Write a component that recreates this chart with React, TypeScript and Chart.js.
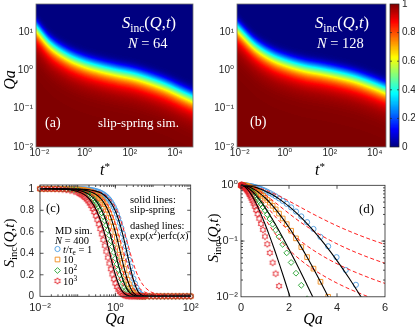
import React, { useEffect, useRef } from 'react';
import { Chart, registerables } from 'chart.js';

Chart.register(...registerables);

const PAGE_W = 415;
const PAGE_H = 328;
const SERIF = '"Liberation Serif", "DejaVu Serif", serif';
const SANS = '"Liberation Sans", "DejaVu Sans", Arial, sans-serif';
const INK = '#262626';

// ===== maps (a) N = 64 and (b) N = 128: the S_inc = 1/2 contour =====
const MAP_A_TSTAR = [0.0076, 0.0295, 0.162, 0.871, 4.79, 26.3, 145, 776, 4270, 23400, 60300];
const MAP_A_QA_HALF = [11.7, 4.57, 2.29, 1.48, 1.1, 0.871, 0.708, 0.525, 0.363, 0.229, 0.178];
const MAP_B_TSTAR = [0.0083, 0.0468, 0.257, 1.41, 7.76, 42.7, 234, 1290, 7080, 30900];
const MAP_B_QA_HALF = [11.7, 4.17, 2.19, 1.48, 1.12, 0.933, 0.759, 0.589, 0.417, 0.295];
const MAP_A_T_RANGE = [0.00708, 63100];
const MAP_B_T_RANGE = [0.00759, 31600];
const MAP_QA_RANGE = [0.01, 53.7];
const MAP_X_TICKS = [0.01, 1, 100, 10000];
const MAP_X_LABELS = ['10⁻²', '10⁰', '10²', '10⁴'];
const MAP_Y_TICKS = [0.01, 0.1, 1, 10];
const MAP_Y_LABELS = ['10⁻²', '10⁻¹', '10⁰', '10¹'];
const COLORBAR_TICKS = [0, 0.2, 0.4, 0.6, 0.8, 1];
const COLORBAR_LABELS = ['0', '0.2', '0.4', '0.6', '0.8', '1'];

// ===== panels (c) and (d) =====
const C_X_TICKS = [0.01, 1, 100];
const C_X_LABELS = ['10⁻²', '10⁰', '10²'];
const C_Y_TICKS = [0, 0.2, 0.4, 0.6, 0.8, 1];
const C_Y_LABELS = ['0', '0.2', '0.4', '0.6', '0.8', '1'];
const D_X_TICKS = [0, 2, 4, 6];
const D_X_LABELS = ['0', '2', '4', '6'];
const D_Y_TICKS = [0.01, 0.1, 1];
const D_Y_LABELS = ['10⁻²', '10⁻¹', '10⁰'];
const SERIES_T = ['1', '10', '10²', '10³'];

// Qa values of the model curves
const Q_LINE = [0.01, 0.05, 0.1, 0.15, 0.2, 0.3, 0.4, 0.5, 0.6, 0.7, 0.8, 1.0, 1.2, 1.4, 1.6, 1.8, 2.0, 2.25, 2.5, 2.75, 3.0, 3.5, 4.0, 4.5, 5.0, 5.5, 6.0, 8, 10, 20, 50, 100];
// solid black lines: slip-spring
const SLIP_T1 = [1.0, 0.9994, 0.9975, 0.9945, 0.9902, 0.9783, 0.962, 0.9417, 0.9177, 0.8903, 0.8602, 0.7924, 0.7185, 0.6413, 0.564, 0.4889, 0.4178, 0.337, 0.2663, 0.2064, 0.1572, 0.0865, 0.0446, 0.0217, 0.00998, 0.00437, 0.00182, 0.000037, 0, 0, 0, 0];
const SLIP_T10 = [1.0, 0.9985, 0.9939, 0.9865, 0.9763, 0.9485, 0.912, 0.8684, 0.8194, 0.7665, 0.7109, 0.5981, 0.4895, 0.3906, 0.3048, 0.2331, 0.1749, 0.1194, 0.0795, 0.0519, 0.0332, 0.01293, 0.00475, 0.001666, 0.000561, 0.000182, 0.000058, 0, 0, 0, 0, 0];
const SLIP_T100 = [1.0, 0.9963, 0.9858, 0.9693, 0.9476, 0.8918, 0.8244, 0.7508, 0.6748, 0.5996, 0.5277, 0.3984, 0.2928, 0.2107, 0.149, 0.1038, 0.0715, 0.0442, 0.027, 0.0163, 0.00979, 0.00344, 0.001185, 0.000401, 0.000134, 0.000045, 0.000015, 0, 0, 0, 0, 0];
const SLIP_T1000 = [0.9997, 0.9933, 0.9744, 0.9452, 0.9078, 0.815, 0.7094, 0.6021, 0.5001, 0.4077, 0.3272, 0.2025, 0.1202, 0.069, 0.0386, 0.0211, 0.01134, 0.00512, 0.002267, 0.00099, 0.000426, 0.000077, 0.0000135, 0, 0, 0, 0, 0, 0, 0, 0, 0];
// dashed red lines: exp(x^2)erfc(x)
const ERFC_T1 = [1.0, 0.9995, 0.998, 0.9955, 0.992, 0.9822, 0.9687, 0.9517, 0.9316, 0.9087, 0.8834, 0.827, 0.766, 0.7025, 0.6394, 0.5785, 0.5215, 0.4562, 0.3993, 0.349, 0.3058, 0.2376, 0.1875, 0.1511, 0.1238, 0.1031, 0.087, 0.0493, 0.0317, 0.00792, 0.00127, 0.00032];
const ERFC_T10 = [1.0, 0.9989, 0.9956, 0.9901, 0.9826, 0.9615, 0.9331, 0.8986, 0.8591, 0.8157, 0.7706, 0.6762, 0.5849, 0.5012, 0.4274, 0.3648, 0.3117, 0.2577, 0.2147, 0.1814, 0.1545, 0.1154, 0.0891, 0.0707, 0.0574, 0.0475, 0.04, 0.0225, 0.0144, 0.0036, 0.00058, 0.00014];
const ERFC_T100 = [0.9999, 0.9975, 0.9899, 0.9776, 0.9606, 0.9148, 0.8562, 0.79, 0.7189, 0.6476, 0.5788, 0.4565, 0.3589, 0.2832, 0.2273, 0.1837, 0.1512, 0.121, 0.0988, 0.082, 0.0691, 0.051, 0.0391, 0.0309, 0.0251, 0.0207, 0.0174, 0.0098, 0.0063, 0.0016, 0.00025, 0.000063];
const ERFC_T1000 = [0.9998, 0.9944, 0.9778, 0.9512, 0.9158, 0.8259, 0.7215, 0.6157, 0.5183, 0.4332, 0.3621, 0.2554, 0.1858, 0.1396, 0.1082, 0.0861, 0.07, 0.0555, 0.045, 0.0372, 0.0313, 0.023, 0.0176, 0.0139, 0.0113, 0.0093, 0.0078, 0.0044, 0.0028, 0.0007, 0.00011, 0.000028];

// Qa values of the MD points
const Q_MD = [
  0.01, 0.0126, 0.0158, 0.02, 0.0251, 0.0316, 0.0398, 0.0501, 0.0631, 0.0794,
  0.1, 0.11, 0.12, 0.132, 0.145, 0.158, 0.174, 0.191, 0.209, 0.229,
  0.251, 0.275, 0.302, 0.331, 0.363, 0.398, 0.437, 0.479, 0.525, 0.575,
  0.631, 0.692, 0.759, 0.832, 0.912, 1.0, 1.096, 1.202, 1.318, 1.445,
  1.585, 1.738, 1.905, 2.089, 2.291, 2.512, 2.754, 3.02, 3.311, 3.631,
  3.981, 4.365, 4.786, 5.248, 5.754, 6.31, 7.94, 10, 12.6, 15.8,
  20, 25.1, 31.6, 39.8, 50.1, 63.1, 79.4, 100,
];
const MD_T1 = [
  1.0, 1.0, 0.9999, 0.9999, 0.9998, 0.9998, 0.9996, 0.9994, 0.999, 0.9985,
  0.9976, 0.9971, 0.9966, 0.9959, 0.995, 0.9941, 0.9929, 0.9914, 0.9897, 0.9877,
  0.9853, 0.9824, 0.9788, 0.9747, 0.9697, 0.9638, 0.9566, 0.9483, 0.9383, 0.9267,
  0.9128, 0.8965, 0.8772, 0.855, 0.8292, 0.7995, 0.7654, 0.7265, 0.6832, 0.635,
  0.5816, 0.5245, 0.4645, 0.4018, 0.3385, 0.2765, 0.2181, 0.1647, 0.1186, 0.0806,
  0.0513, 0.0303, 0.0164, 0.00802, 0.0035, 0.00134, 0, 0, 0, 0,
  0, 0, 0, 0, 0, 0, 0, 0,
];
const MD_T10 = [
  0.9999, 0.9999, 0.9998, 0.9997, 0.9996, 0.9994, 0.999, 0.9984, 0.9975, 0.9961,
  0.9939, 0.9926, 0.9913, 0.9895, 0.9873, 0.985, 0.9819, 0.9783, 0.9742, 0.9692,
  0.9633, 0.9563, 0.9479, 0.9381, 0.9265, 0.9128, 0.8967, 0.878, 0.8566, 0.832,
  0.8033, 0.7707, 0.7339, 0.693, 0.6478, 0.5981, 0.5449, 0.4885, 0.4297, 0.3701,
  0.3108, 0.2539, 0.201, 0.1531, 0.1118, 0.0779, 0.0515, 0.032, 0.0186, 0.01,
  0.00494, 0.00222, 0, 0, 0, 0, 0, 0, 0, 0,
  0, 0, 0, 0, 0, 0, 0, 0,
];
const MD_T100 = [
  0.9998, 0.9997, 0.9996, 0.9993, 0.9989, 0.9983, 0.9974, 0.9959, 0.9935, 0.9898,
  0.9841, 0.9809, 0.9774, 0.9729, 0.9676, 0.962, 0.9545, 0.946, 0.9363, 0.9248,
  0.9115, 0.896, 0.8776, 0.8569, 0.833, 0.8059, 0.7749, 0.7408, 0.703, 0.6616,
  0.616, 0.5673, 0.5157, 0.4623, 0.4078, 0.3531, 0.2995, 0.248, 0.2002, 0.157,
  0.119, 0.0871, 0.0614, 0.0413, 0.0265, 0.0161, 0.00923, 0.00496, 0.00249, 0.00115,
  0, 0, 0, 0, 0, 0, 0, 0, 0, 0,
  0, 0, 0, 0, 0, 0, 0, 0,
];
const MD_T1000 = [
  0.9996, 0.9994, 0.999, 0.9984, 0.9975, 0.9961, 0.9939, 0.9904, 0.985, 0.9766,
  0.9638, 0.9567, 0.9491, 0.9393, 0.928, 0.9159, 0.9, 0.8822, 0.8624, 0.8395,
  0.8131, 0.7838, 0.7496, 0.7122, 0.6708, 0.6256, 0.5763, 0.5249, 0.4712, 0.4165,
  0.3602, 0.3053, 0.2526, 0.2037, 0.1594, 0.1206, 0.0879, 0.0614, 0.041, 0.026,
  0.01557, 0.00877, 0.00463, 0.00226, 0.00102, 0, 0, 0, 0, 0,
  0, 0, 0, 0, 0, 0, 0, 0, 0, 0,
  0, 0, 0, 0, 0, 0, 0, 0,
];

const SLIP_VALUES = [SLIP_T1, SLIP_T10, SLIP_T100, SLIP_T1000];
const ERFC_VALUES = [ERFC_T1, ERFC_T10, ERFC_T100, ERFC_T1000];
const MD_VALUES = [MD_T1, MD_T10, MD_T100, MD_T1000];

// styles (kept apart from the data)
const MD_STYLE = [
  { color: '#4b9be0', marker: 'circle', r: 2.6 },
  { color: '#f28c1c', marker: 'rect', r: 3.3 },
  { color: '#22a02c', marker: 'rectRot', r: 2.9 },
  { color: '#e3262c', marker: 'hexagram', r: 3.2 },
];

// ---------- helpers ----------
type Seg = { t: string; f: string; dy?: number };
const rom = (s: number) => `${s}px ${SERIF}`;
const ita = (s: number) => `italic ${s}px ${SERIF}`;

function rich(
  ctx: CanvasRenderingContext2D,
  segs: Seg[],
  x: number,
  y: number,
  o: { align?: 'left' | 'center' | 'right'; color?: string; rotate?: number; baseline?: CanvasTextBaseline } = {},
) {
  ctx.save();
  ctx.fillStyle = o.color || '#000';
  ctx.textBaseline = o.baseline || 'alphabetic';
  ctx.textAlign = 'left';
  let w = 0;
  for (const s of segs) {
    ctx.font = s.f;
    w += ctx.measureText(s.t).width;
  }
  ctx.translate(x, y);
  if (o.rotate) ctx.rotate(o.rotate);
  let cx = o.align === 'center' ? -w / 2 : o.align === 'right' ? -w : 0;
  for (const s of segs) {
    ctx.font = s.f;
    ctx.fillText(s.t, cx, s.dy || 0);
    cx += ctx.measureText(s.t).width;
  }
  ctx.restore();
}

function sinc(size: number): Seg[] {
  return [
    { t: 'S', f: ita(size) },
    { t: 'inc', f: rom(size * 0.7), dy: size * 0.25 },
    { t: '(', f: rom(size) },
    { t: 'Q', f: ita(size) },
    { t: ',', f: rom(size) },
    { t: 't', f: ita(size) },
    { t: ')', f: rom(size) },
  ];
}

function jet(v: number): [number, number, number] {
  const c = (t: number) => Math.max(0, Math.min(1, t));
  return [c(1.5 - Math.abs(4 * v - 3)), c(1.5 - Math.abs(4 * v - 2)), c(1.5 - Math.abs(4 * v - 1))];
}
const JET = Array.from({ length: 256 }, (_, i) => {
  const [r, g, b] = jet(i / 255);
  return `rgb(${Math.round(r * 255)},${Math.round(g * 255)},${Math.round(b * 255)})`;
});

function contourAt(ts: number[], qs: number[], t: number) {
  const lx = ts.map(Math.log10);
  const ly = qs.map(Math.log10);
  const n = lx.length;
  const u = Math.log10(t);
  if (u <= lx[0]) return 10 ** (ly[0] + ((u - lx[0]) * (ly[1] - ly[0])) / (lx[1] - lx[0]));
  if (u >= lx[n - 1]) return 10 ** (ly[n - 1] + ((u - lx[n - 1]) * (ly[n - 1] - ly[n - 2])) / (lx[n - 1] - lx[n - 2]));
  let i = 0;
  while (lx[i + 1] < u) i++;
  const h = lx[i + 1] - lx[i];
  const s = (u - lx[i]) / h;
  const m = (k: number) =>
    k <= 0
      ? (ly[1] - ly[0]) / (lx[1] - lx[0])
      : k >= n - 1
      ? (ly[n - 1] - ly[n - 2]) / (lx[n - 1] - lx[n - 2])
      : (ly[k + 1] - ly[k - 1]) / (lx[k + 1] - lx[k - 1]);
  const h00 = 2 * s ** 3 - 3 * s ** 2 + 1;
  const h10 = s ** 3 - 2 * s ** 2 + s;
  const h01 = -2 * s ** 3 + 3 * s ** 2;
  const h11 = s ** 3 - s ** 2;
  return 10 ** (h00 * ly[i] + h10 * h * m(i) + h01 * ly[i + 1] + h11 * h * m(i + 1));
}

function heatPlugin(ts: number[], qs: number[]) {
  return {
    id: 'heat',
    beforeDatasetsDraw(chart: any) {
      const { ctx, chartArea: a, scales } = chart;
      const x = scales.x;
      const y = scales.y;
      ctx.save();
      ctx.beginPath();
      ctx.rect(a.left, a.top, a.right - a.left, a.bottom - a.top);
      ctx.clip();
      const x0 = Math.floor(a.left);
      const x1 = Math.ceil(a.right);
      const y0 = Math.floor(a.top);
      const y1 = Math.ceil(a.bottom);
      for (let px = x0; px < x1; px++) {
        const qh = contourAt(ts, qs, x.getValueForPixel(px + 0.5));
        let runStart = y0;
        let runIdx = -1;
        for (let py = y0; py <= y1; py++) {
          let idx = -2;
          if (py < y1) {
            const q = y.getValueForPixel(py + 0.5);
            const sv = Math.exp(-Math.LN2 * (q / qh) ** 2);
            idx = Math.round(sv * 255);
          }
          if (idx !== runIdx) {
            if (runIdx >= 0) {
              ctx.fillStyle = JET[runIdx];
              ctx.fillRect(px, runStart, 1, py - runStart);
            }
            runIdx = idx;
            runStart = py;
          }
        }
      }
      ctx.restore();
    },
  };
}

function colorbarPlugin() {
  return {
    id: 'cbar',
    beforeDatasetsDraw(chart: any) {
      const { ctx, chartArea: a, scales } = chart;
      const y = scales.y;
      ctx.save();
      for (let py = Math.floor(a.top); py < Math.ceil(a.bottom); py++) {
        const v = Math.max(0, Math.min(1, y.getValueForPixel(py + 0.5)));
        ctx.fillStyle = JET[Math.round(v * 255)];
        ctx.fillRect(a.left, py, a.right - a.left, 1);
      }
      ctx.restore();
    },
  };
}

type FrameOpts = {
  xMajor?: number[];
  xMinor?: number[];
  yMajor?: number[];
  yMinor?: number[];
  color: string;
  width: number;
  len: number;
  minorLen: number;
};
function framePlugin(o: FrameOpts) {
  return {
    id: 'frame',
    afterDatasetsDraw(chart: any) {
      const { ctx, chartArea: a, scales } = chart;
      const x = scales.x;
      const y = scales.y;
      ctx.save();
      ctx.strokeStyle = o.color;
      ctx.lineWidth = o.width;
      ctx.beginPath();
      const tx = (vals: number[] | undefined, len: number) =>
        (vals || []).forEach((v) => {
          const p = x.getPixelForValue(v);
          if (p < a.left + 0.5 || p > a.right - 0.5) return;
          ctx.moveTo(p, a.bottom);
          ctx.lineTo(p, a.bottom - len);
          ctx.moveTo(p, a.top);
          ctx.lineTo(p, a.top + len);
        });
      const ty = (vals: number[] | undefined, len: number) =>
        (vals || []).forEach((v) => {
          const p = y.getPixelForValue(v);
          if (p < a.top + 0.5 || p > a.bottom - 0.5) return;
          ctx.moveTo(a.left, p);
          ctx.lineTo(a.left + len, p);
          ctx.moveTo(a.right, p);
          ctx.lineTo(a.right - len, p);
        });
      tx(o.xMajor, o.len);
      tx(o.xMinor, o.minorLen);
      ty(o.yMajor, o.len);
      ty(o.yMinor, o.minorLen);
      ctx.stroke();
      ctx.strokeRect(a.left, a.top, a.right - a.left, a.bottom - a.top);
      ctx.restore();
    },
  };
}

function notesPlugin(draw: (ctx: CanvasRenderingContext2D) => void) {
  return {
    id: 'notes',
    afterDraw(chart: any) {
      draw(chart.ctx);
    },
  };
}

type AxisOpts = {
  type: 'linear' | 'logarithmic';
  min: number;
  max: number;
  ticks: number[];
  labels: string[];
  size: number;
  padding: number;
  horizontal: boolean;
  position?: string;
  fontSize?: number;
};
function makeScale(o: AxisOpts) {
  return {
    type: o.type,
    position: o.position,
    min: o.min,
    max: o.max,
    grid: { display: false, drawTicks: false },
    border: { display: false },
    afterBuildTicks: (s: any) => {
      s.ticks = o.ticks.map((v) => ({ value: v }));
    },
    afterFit: (s: any) => {
      if (o.horizontal) s.height = o.size;
      else s.width = o.size;
      s.paddingTop = 0;
      s.paddingBottom = 0;
      s.paddingLeft = 0;
      s.paddingRight = 0;
    },
    ticks: {
      autoSkip: false,
      maxRotation: 0,
      minRotation: 0,
      padding: o.padding,
      color: INK,
      font: { family: SANS, size: o.fontSize || 10 },
      callback: (v: number) => {
        const i = o.ticks.findIndex((t) => Math.abs(t - v) <= 1e-9 * Math.max(1, Math.abs(t)));
        return i >= 0 ? o.labels[i] : '';
      },
    },
  };
}

type Box = { left: number; right: number; top: number; bottom: number };
function place(b: Box, yW: number, xH: number, yRight = false) {
  return {
    left: yRight ? b.left : b.left - yW,
    right: yRight ? PAGE_W - b.right - yW : PAGE_W - b.right,
    top: b.top,
    bottom: PAGE_H - b.bottom - xH,
  };
}

function logMinor(lo: number, hi: number) {
  const out: number[] = [];
  for (let e = lo; e < hi; e++) for (let m = 1; m <= 9; m++) out.push(m * 10 ** e);
  return out;
}

function makeHexagram(color: string, r: number) {
  const size = Math.ceil(r * 2 + 3);
  const c = document.createElement('canvas');
  c.width = size;
  c.height = size;
  const g = c.getContext('2d')!;
  g.strokeStyle = color;
  g.lineWidth = 0.9;
  g.beginPath();
  for (let k = 0; k < 12; k++) {
    const ang = -Math.PI / 2 + (k * Math.PI) / 6;
    const rr = k % 2 === 0 ? r : r * 0.577;
    const px = size / 2 + rr * Math.cos(ang);
    const py = size / 2 + rr * Math.sin(ang);
    if (k === 0) g.moveTo(px, py);
    else g.lineTo(px, py);
  }
  g.closePath();
  g.stroke();
  return c;
}

function drawMarker(ctx: CanvasRenderingContext2D, k: number, x: number, y: number, hex: HTMLCanvasElement) {
  const st = MD_STYLE[k];
  ctx.save();
  ctx.strokeStyle = st.color;
  ctx.lineWidth = 0.9;
  ctx.beginPath();
  if (st.marker === 'circle') ctx.arc(x, y, st.r, 0, Math.PI * 2);
  else if (st.marker === 'rect') {
    const h = st.r * Math.SQRT1_2;
    ctx.rect(x - h, y - h, 2 * h, 2 * h);
  } else if (st.marker === 'rectRot') {
    ctx.moveTo(x, y - st.r);
    ctx.lineTo(x + st.r, y);
    ctx.lineTo(x, y + st.r);
    ctx.lineTo(x - st.r, y);
    ctx.closePath();
  }
  ctx.stroke();
  if (st.marker === 'hexagram') ctx.drawImage(hex, x - hex.width / 2, y - hex.height / 2);
  ctx.restore();
}

function curveDatasets(logY: boolean, hex: HTMLCanvasElement, lineClip: any, markClip: any) {
  const pts = (xs: number[], ys: number[]) =>
    xs.map((x, i) => ({ x, y: ys[i] })).filter((p) => !logY || p.y > 0);
  const ds: any[] = [];
  SLIP_VALUES.forEach((ys) =>
    ds.push({
      data: pts(Q_LINE, ys),
      showLine: true,
      pointRadius: 0,
      pointHoverRadius: 0,
      borderColor: '#000000',
      borderWidth: 1.1,
      cubicInterpolationMode: 'monotone',
      capBezierPoints: false,
      order: 0,
      clip: lineClip,
    }),
  );
  ERFC_VALUES.forEach((ys) =>
    ds.push({
      data: pts(Q_LINE, ys),
      showLine: true,
      pointRadius: 0,
      pointHoverRadius: 0,
      borderColor: '#ff1f1f',
      borderWidth: 1,
      borderDash: [4, 2.5],
      cubicInterpolationMode: 'monotone',
      capBezierPoints: false,
      order: 1,
      clip: lineClip,
    }),
  );
  MD_VALUES.forEach((ys, k) =>
    ds.push({
      data: pts(Q_MD, ys),
      showLine: false,
      pointStyle: MD_STYLE[k].marker === 'hexagram' ? hex : MD_STYLE[k].marker,
      pointRadius: MD_STYLE[k].r,
      pointHoverRadius: MD_STYLE[k].r,
      borderColor: MD_STYLE[k].color,
      backgroundColor: 'rgba(0,0,0,0)',
      borderWidth: 0.9,
      order: 5 - k,
      clip: markClip,
    }),
  );
  return ds;
}

const BASE_OPTIONS = {
  responsive: false,
  animation: false as const,
  devicePixelRatio: 1,
  events: [] as any[],
  plugins: { legend: { display: false }, tooltip: { enabled: false } },
};

export default function App() {
  const refA = useRef<HTMLCanvasElement>(null);
  const refB = useRef<HTMLCanvasElement>(null);
  const refCb = useRef<HTMLCanvasElement>(null);
  const refC = useRef<HTMLCanvasElement>(null);
  const refD = useRef<HTMLCanvasElement>(null);

  useEffect(() => {
    const hex = makeHexagram(MD_STYLE[3].color, MD_STYLE[3].r);
    const charts: Chart[] = [];

    // ---- (a) ----
    const boxA = { left: 36, right: 193, top: 4, bottom: 147 };
    charts.push(
      new Chart(refA.current!, {
        type: 'scatter',
        data: { datasets: [] },
        options: {
          ...BASE_OPTIONS,
          layout: { padding: place(boxA, 30, 20) },
          scales: {
            x: makeScale({ type: 'logarithmic', min: MAP_A_T_RANGE[0], max: MAP_A_T_RANGE[1], ticks: MAP_X_TICKS, labels: MAP_X_LABELS, size: 20, padding: 0, horizontal: true }),
            y: makeScale({ type: 'logarithmic', min: MAP_QA_RANGE[0], max: MAP_QA_RANGE[1], ticks: MAP_Y_TICKS, labels: MAP_Y_LABELS, size: 30, padding: 3, horizontal: false }),
          },
        } as any,
        plugins: [
          heatPlugin(MAP_A_TSTAR, MAP_A_QA_HALF),
          framePlugin({ color: '#707070', width: 0.8, len: 0, minorLen: 0 }),
          notesPlugin((ctx) => {
            rich(ctx, sinc(16.5), 122, 28, { color: '#fff' });
            rich(ctx, [{ t: 'N', f: ita(14.5) }, { t: ' = 64', f: rom(14.5) }], 128, 47.5, { color: '#fff' });
            rich(ctx, [{ t: '(a)', f: rom(14) }], 45, 127, { color: '#fff' });
            rich(ctx, [{ t: 'slip-spring sim.', f: rom(13) }], 98, 127, { color: '#fff' });
            rich(ctx, [{ t: 'Qa', f: ita(16) }], 11, 80, { align: 'center', rotate: -Math.PI / 2, baseline: 'middle' });
            rich(ctx, [{ t: 't', f: ita(16) }, { t: '*', f: rom(11), dy: -5 }], 105, 175, { align: 'center' });
          }),
        ],
      }),
    );

    // ---- (b) ----
    const boxB = { left: 237, right: 386, top: 4, bottom: 147 };
    charts.push(
      new Chart(refB.current!, {
        type: 'scatter',
        data: { datasets: [] },
        options: {
          ...BASE_OPTIONS,
          layout: { padding: place(boxB, 30, 20) },
          scales: {
            x: makeScale({ type: 'logarithmic', min: MAP_B_T_RANGE[0], max: MAP_B_T_RANGE[1], ticks: MAP_X_TICKS, labels: MAP_X_LABELS, size: 20, padding: 0, horizontal: true }),
            y: makeScale({ type: 'logarithmic', min: MAP_QA_RANGE[0], max: MAP_QA_RANGE[1], ticks: MAP_Y_TICKS, labels: MAP_Y_LABELS, size: 30, padding: 3, horizontal: false }),
          },
        } as any,
        plugins: [
          heatPlugin(MAP_B_TSTAR, MAP_B_QA_HALF),
          framePlugin({ color: '#707070', width: 0.8, len: 0, minorLen: 0 }),
          notesPlugin((ctx) => {
            rich(ctx, sinc(16.5), 315, 28, { color: '#fff' });
            rich(ctx, [{ t: 'N', f: ita(14.5) }, { t: ' = 128', f: rom(14.5) }], 317, 47.5, { color: '#fff' });
            rich(ctx, [{ t: '(b)', f: rom(14) }], 250, 126, { color: '#fff' });
            rich(ctx, [{ t: 't', f: ita(16) }, { t: '*', f: rom(11), dy: -5 }], 320, 175, { align: 'center' });
          }),
        ],
      }),
    );

    // ---- colorbar ----
    const boxCb = { left: 390, right: 399, top: 4, bottom: 147 };
    charts.push(
      new Chart(refCb.current!, {
        type: 'scatter',
        data: { datasets: [] },
        options: {
          ...BASE_OPTIONS,
          layout: { padding: place(boxCb, 16, 0, true) },
          scales: {
            x: { type: 'linear', display: false, min: 0, max: 1 },
            y: makeScale({ type: 'linear', position: 'right', min: 0, max: 1, ticks: COLORBAR_TICKS, labels: COLORBAR_LABELS, size: 16, padding: 3, horizontal: false }),
          },
        } as any,
        plugins: [colorbarPlugin(), framePlugin({ yMajor: COLORBAR_TICKS, color: INK, width: 0.7, len: 2, minorLen: 0 })],
      }),
    );

    // ---- (c) ----
    const boxC = { left: 40, right: 190.7, top: 185, bottom: 296.3 };
    charts.push(
      new Chart(refC.current!, {
        type: 'scatter',
        data: { datasets: curveDatasets(false, hex, { left: 0, top: 2, right: 0, bottom: 2 }, 4) },
        options: {
          ...BASE_OPTIONS,
          layout: { padding: place(boxC, 30, 25) },
          scales: {
            x: makeScale({ type: 'logarithmic', min: 0.01, max: 100, ticks: C_X_TICKS, labels: C_X_LABELS, size: 25, padding: 5, horizontal: true, fontSize: 11 }),
            y: makeScale({ type: 'linear', min: 0, max: 1.035, ticks: C_Y_TICKS, labels: C_Y_LABELS, size: 30, padding: 6, horizontal: false }),
          },
        } as any,
        plugins: [
          framePlugin({ xMajor: C_X_TICKS, xMinor: logMinor(-2, 2), yMajor: C_Y_TICKS, color: INK, width: 0.8, len: 3.5, minorLen: 2 }),
          notesPlugin((ctx) => {
            const s = 10.5;
            rich(ctx, [{ t: '(c)', f: rom(12.5) }], 46, 212);
            rich(ctx, [{ t: 'solid lines:', f: rom(s) }], 130, 203);
            rich(ctx, [{ t: 'slip-spring', f: rom(s) }], 130, 213);
            rich(ctx, [{ t: 'dashed lines:', f: rom(s) }], 130, 228.5);
            rich(
              ctx,
              [
                { t: 'exp(', f: rom(s) },
                { t: 'x', f: ita(s) },
                { t: '2', f: rom(s * 0.7), dy: -4 },
                { t: ')erfc(', f: rom(s) },
                { t: 'x', f: ita(s) },
                { t: ')', f: rom(s) },
              ],
              130,
              239,
            );
            rich(ctx, [{ t: 'MD sim.', f: rom(s) }], 55, 234);
            rich(ctx, [{ t: 'N', f: ita(s) }, { t: ' = 400', f: rom(s) }], 55, 243.5);
            const ly = [249, 259.5, 270.5, 281];
            ly.forEach((yy, k) => drawMarker(ctx, k, 57.5, yy, hex));
            rich(
              ctx,
              [
                { t: 't', f: ita(s) },
                { t: '/', f: rom(s) },
                { t: 'τ', f: ita(s) },
                { t: 'e', f: rom(s * 0.7), dy: 2.5 },
                { t: ' = ' + SERIES_T[0], f: rom(s) },
              ],
              63,
              252.5,
            );
            rich(ctx, [{ t: SERIES_T[1], f: rom(s) }], 63, 263);
            rich(ctx, [{ t: '10', f: rom(s) }, { t: '2', f: rom(s * 0.7), dy: -4 }], 63, 274);
            rich(ctx, [{ t: '10', f: rom(s) }, { t: '3', f: rom(s * 0.7), dy: -4 }], 63, 284.5);
            rich(ctx, sinc(15), 10, 243, { align: 'center', rotate: -Math.PI / 2, baseline: 'middle' });
            rich(ctx, [{ t: 'Qa', f: ita(16) }], 115, 324, { align: 'center' });
          }),
        ],
      }),
    );

    // ---- (d) ----
    const boxD = { left: 241, right: 385, top: 185.3, bottom: 296.8 };
    charts.push(
      new Chart(refD.current!, {
        type: 'scatter',
        data: { datasets: curveDatasets(true, hex, { left: 2, top: 2, right: 0, bottom: 0 }, { left: 4, top: 4, right: 0, bottom: 0 }) },
        options: {
          ...BASE_OPTIONS,
          layout: { padding: place(boxD, 30, 25) },
          scales: {
            x: makeScale({ type: 'linear', min: 0, max: 6, ticks: D_X_TICKS, labels: D_X_LABELS, size: 25, padding: 5, horizontal: true, fontSize: 11 }),
            y: makeScale({ type: 'logarithmic', min: 0.01, max: 1, ticks: D_Y_TICKS, labels: D_Y_LABELS, size: 30, padding: 3, horizontal: false, fontSize: 11 }),
          },
        } as any,
        plugins: [
          framePlugin({ xMajor: D_X_TICKS, yMajor: D_Y_TICKS, yMinor: logMinor(-2, 0), color: INK, width: 0.8, len: 3.5, minorLen: 2 }),
          notesPlugin((ctx) => {
            rich(ctx, [{ t: '(d)', f: rom(13) }], 359, 213);
            rich(ctx, sinc(15), 214, 238, { align: 'center', rotate: -Math.PI / 2, baseline: 'middle' });
            rich(ctx, [{ t: 'Qa', f: ita(16) }], 313, 324, { align: 'center' });
          }),
        ],
      }),
    );

    return () => charts.forEach((c) => c.destroy());
  }, []);

  const cs: React.CSSProperties = { position: 'absolute', left: 0, top: 0, width: PAGE_W, height: PAGE_H };
  return (
    <div style={{ position: 'fixed', left: 0, top: 0, width: PAGE_W, height: PAGE_H, background: '#fff', overflow: 'hidden' }}>
      <canvas ref={refA} width={PAGE_W} height={PAGE_H} style={cs} />
      <canvas ref={refB} width={PAGE_W} height={PAGE_H} style={cs} />
      <canvas ref={refCb} width={PAGE_W} height={PAGE_H} style={cs} />
      <canvas ref={refC} width={PAGE_W} height={PAGE_H} style={cs} />
      <canvas ref={refD} width={PAGE_W} height={PAGE_H} style={cs} />
    </div>
  );
}
